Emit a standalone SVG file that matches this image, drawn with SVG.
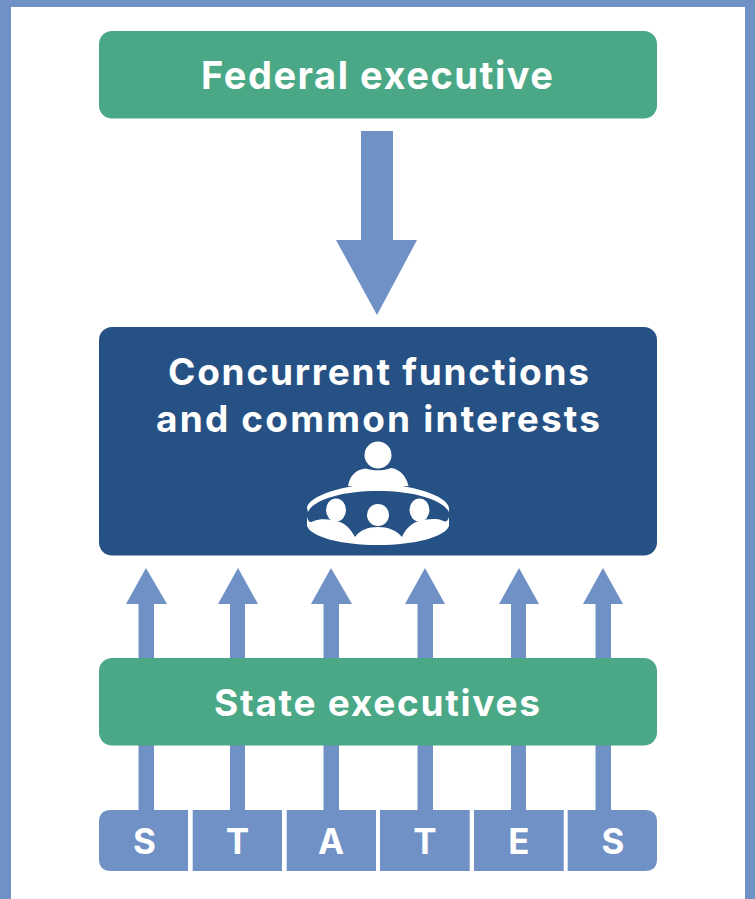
<svg xmlns="http://www.w3.org/2000/svg" width="755" height="899" viewBox="0 0 755 899">
<style>
.g{fill:#4aa886}.b{fill:#265184}.c{fill:#7091c5}.w{fill:#fff}
text{font-family:"Inter","Open Sans","Liberation Sans",sans-serif;font-weight:700;fill:#fff;text-anchor:middle}
.t1{font-size:38px}.t2{font-size:37px}.t3{font-size:35px}
</style>
<rect width="755" height="899" fill="#fff"/>
<path class="c" d="M0 0H755V899H745V7H11V899H0Z"/>
<g id="connectors">
<path class="c" d="M361 131H393V240H417L377 315L336 240H361Z"/>
<path class="c" d="M138.500 815V604H126L146 568L167 604H154V815Z"/>
<path class="c" d="M230 815V604H218L238 568L258 604H245V815Z"/>
<path class="c" d="M323.500 815V604H311L331 568L352 604H339V815Z"/>
<path class="c" d="M417.500 815V604H405L425 568L445 604H433V815Z"/>
<path class="c" d="M511 815V604H499L519 568L539 604H526V815Z"/>
<path class="c" d="M595.500 815V604H583L603 568L623 604H611V815Z"/>
</g>
<g id="federal"><rect class="g" x="99" y="31" width="558" height="87.500" rx="13"/><text class="t1" x="377" y="89" textLength="352">Federal executive</text></g>
<g id="concurrent"><rect class="b" x="99" y="327" width="558" height="228.500" rx="13"/>
<text class="t2" x="378.500" y="385" textLength="421">Concurrent functions</text><text class="t2" x="378" y="432" textLength="444">and common interests</text>
<g id="meeting-icon">
<circle class="w" cx="378" cy="455" r="13.500"/>
<path class="w" d="M348 486C350 474 358 469 366 468.500C372 471 384 471 391 468C399 469 406 475 408.500 486Z"/>
<path class="w" d="M307 508C308 496 345 484 378 484C411 484 448 496 449 508L449 512C443 500 415 491 378 491C341 491 313 500 308 512Z"/>
<ellipse class="w" cx="336" cy="510" rx="10" ry="11.500"/><circle class="w" cx="378" cy="515" r="11"/><ellipse class="w" cx="419.500" cy="510" rx="10" ry="11.500"/>
<path class="w" d="M307 517C309 524 311 522 314 521C320 518 332 519 340 522C348 525 352 532 355 537C360 530 368 527 378 527C388 527 396 530 402 537C404 532 409 525 416 522C424 519 436 518 441 520C444 521 447 524 449 517L449 526C445 537 415 545 378 545C341 545 311 537 307 526Z"/>
</g></g>
<g id="state"><rect class="g" x="99" y="658" width="558" height="87.500" rx="13"/><text class="t2" x="377" y="715.500" textLength="326">State executives</text></g>
<g id="states">
<path class="c" d="M188 810V871H111Q99 871 99 859V822Q99 810 111 810Z"/>
<rect class="c" x="192.700" y="810" width="89.300" height="61"/>
<rect class="c" x="286.700" y="810" width="89.300" height="61"/>
<rect class="c" x="380" y="810" width="89.700" height="61"/>
<rect class="c" x="474" y="810" width="89.700" height="61"/>
<path class="c" d="M567.700 810H645Q657 810 657 822V859Q657 871 645 871H567.700Z"/>
<text class="t3" x="144.500" y="853.500">S</text><text class="t3" x="237.500" y="853.500">T</text><text class="t3" x="331" y="853.500">A</text><text class="t3" x="425" y="853.500">T</text><text class="t3" x="519" y="853.500">E</text><text class="t3" x="613" y="853.500">S</text>
</g>
</svg>
